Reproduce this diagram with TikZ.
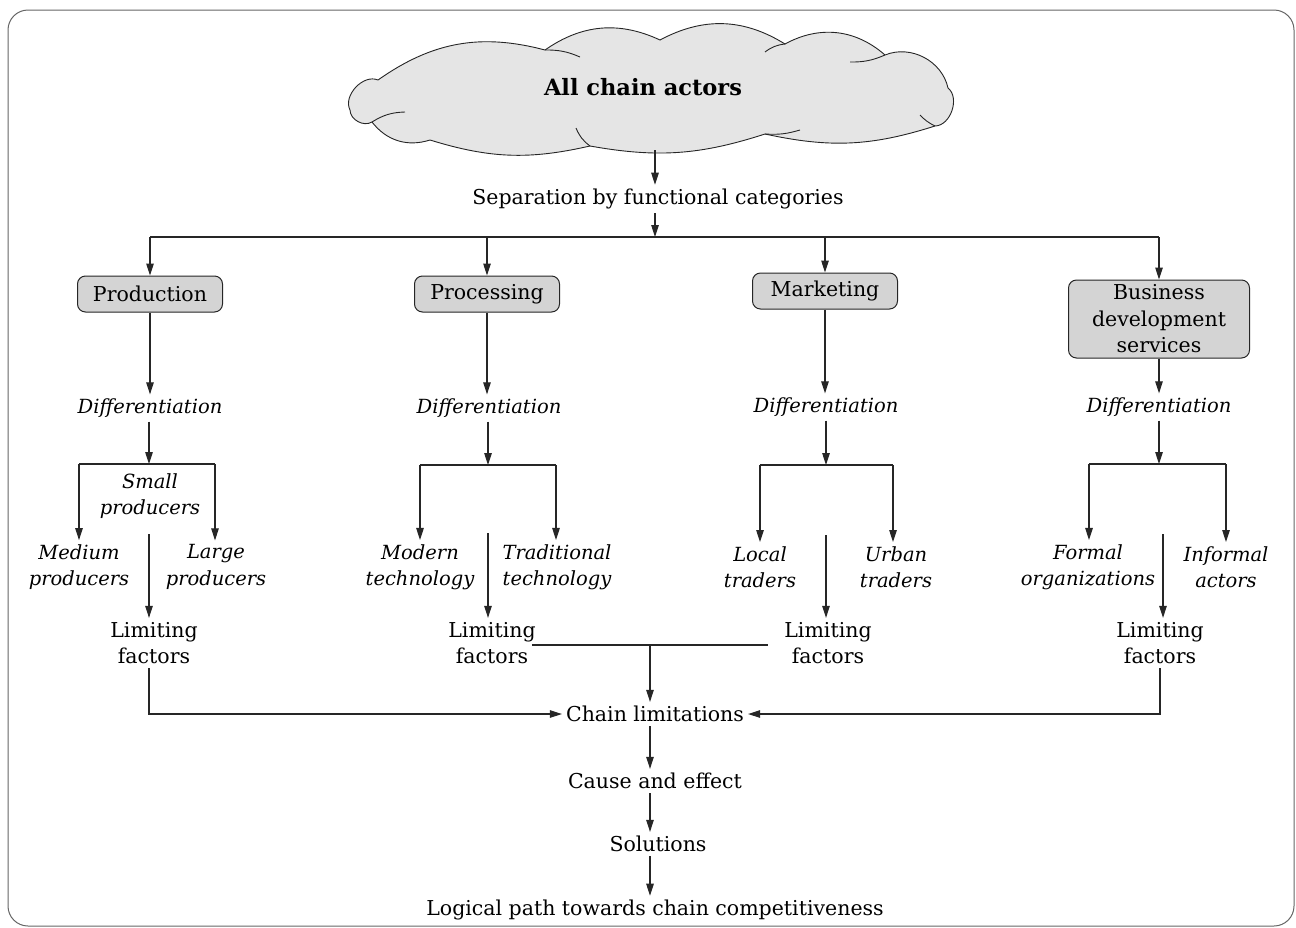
\documentclass[tikz,border=0pt]{standalone}
\usepackage{fontspec}
\setmainfont{DejaVu Serif}
\usetikzlibrary{arrows.meta}
\begin{document}
\begin{tikzpicture}[x=1pt,y=-1pt,
  every node/.style={font=\fontsize{20.5}{26.5}\selectfont, align=center, inner sep=4pt},
  txt/.style={},
  itx/.style={font=\fontsize{19.5}{26.5}\selectfont\itshape},
  catbox/.style={draw=black!85, line width=1pt, rounded corners=8pt, fill=black!17, minimum width=145pt, minimum height=36pt, inner sep=3pt},
  cloudline/.style={draw=black!85, line width=0.9pt},
  conn/.style={draw=black!85, line width=1.1pt},
  arr/.style={conn, -{Triangle[length=12pt,width=7.5pt]}}]
\useasboundingbox (0,0) rectangle (1296,927);
\draw[black!60, line width=1pt, rounded corners=20pt] (8,10) rectangle (1294,926);

% cloud outline
\path[cloudline, fill=black!10]
  (350,110) to[bend left=70] (378,80)
  to[bend left=25] (545,50)
  to[bend left=30] (660,40)
  to[bend left=30] (785,44)
  to[bend left=35] (885,55)
  to[bend left=50] (948,88)
  to[bend left=70] (935,126)
  to[bend left=15] (765,134)
  to[bend left=14] (590,146)
  to[bend left=15] (430,140)
  to[bend left=35] (372,122)
  to[bend left=60] cycle;
% overlapping puff strokes
\draw[cloudline] (545,50) to[bend left=12] (580,57);
\draw[cloudline] (785,44) to[bend right=15] (765,52);
\draw[cloudline] (885,55) to[bend left=12] (850,62);
\draw[cloudline] (372,122) to[bend left=15] (405,112);
\draw[cloudline] (590,146) to[bend left=15] (576,128);
\draw[cloudline] (765,134) to[bend right=10] (800,130);
\draw[cloudline] (935,126) to[bend left=10] (920,115);

\node[font=\fontsize{22.5}{26}\selectfont\bfseries] (cloud) at (643,87) {All chain actors};
\coordinate (cb) at (655,150);

\node[txt] (sep) at (658,199) {Separation by functional categories};
\coordinate (hb) at (655,237);

\node[catbox] (prod) at (150,294) {Production};
\node[catbox] (proc) at (487,294) {Processing};
\node[catbox] (mark) at (825,291) {Marketing};
\node[catbox, minimum width=181pt, minimum height=78pt] (bds) at (1159,319) {Business\\development\\services};

\node[itx] (d1) at (150,408) {Differentiation};
\node[itx] (d2) at (489,408) {Differentiation};
\node[itx] (d3) at (826,407) {Differentiation};
\node[itx] (d4) at (1159,407) {Differentiation};

\coordinate (b1) at (149,464); \coordinate (b1l) at (79,464); \coordinate (b1r) at (215,464);
\coordinate (b2) at (488,465); \coordinate (b2l) at (420,465); \coordinate (b2r) at (556,465);
\coordinate (b3) at (826,465); \coordinate (b3l) at (760,465); \coordinate (b3r) at (893,465);
\coordinate (b4) at (1159,464); \coordinate (b4l) at (1089,464); \coordinate (b4r) at (1226,464);

\node[itx] (small) at (150,496) {Small\\producers};
\node[itx] (med) at (79,567) {Medium\\producers};
\node[itx] (large) at (216,567) {Large\\producers};
\node[itx] (modern) at (420,567) {Modern\\technology};
\node[itx] (trad) at (557,567) {Traditional\\technology};
\node[itx] (local) at (760,567) {Local\\traders};
\node[itx] (urban) at (896,567) {Urban\\traders};
\node[itx] (formal) at (1088,567) {Formal\\organizations};
\node[itx] (informal) at (1226,567) {Informal\\actors};

\coordinate (c1) at (149,534); \coordinate (c2) at (488,533);
\coordinate (c3) at (826,535); \coordinate (c4) at (1163,534);

\node[txt] (lf1) at (154,643) {Limiting\\factors};
\node[txt] (lf2) at (492,643) {Limiting\\factors};
\node[txt] (lf3) at (828,643) {Limiting\\factors};
\node[txt] (lf4) at (1160,643) {Limiting\\factors};

\node[txt] (chain) at (655,714) {Chain limitations};
\node[txt] (cause) at (655,781) {Cause and effect};
\node[txt] (sol) at (658,844) {Solutions};
\node[txt] (logic) at (655,910) {Logical path towards chain competitiveness};
\coordinate (j) at (650,645);

% top
\draw[arr] (cb) -- (hb |- sep.north);
\draw[arr] (sep.south -| hb) -- (hb);
\draw[conn] (prod.north |- hb) -- (bds.north |- hb);
\foreach \n in {prod,proc,mark,bds} \draw[arr] (\n.north |- hb) -- (\n.north);

% category to differentiation
\draw[arr] (prod.south) -- (prod.south |- d1.north);
\draw[arr] (proc.south) -- (proc.south |- d2.north);
\draw[arr] (mark.south) -- (mark.south |- d3.north);
\draw[arr] (bds.south) -- (bds.south |- d4.north);

% brackets
\draw[arr] (b1 |- d1.south) -- (b1);
\draw[arr] (b2 |- d2.south) -- (b2);
\draw[arr] (b3 |- d3.south) -- (b3);
\draw[arr] (b4 |- d4.south) -- (b4);
\draw[conn] (b1l) -- (b1r);
\draw[arr] (b1l) -- (b1l |- med.north);
\draw[arr] (b1r) -- (b1r |- large.north);
\draw[conn] (b2l) -- (b2r);
\draw[arr] (b2l) -- (b2l |- modern.north);
\draw[arr] (b2r) -- (b2r |- trad.north);
\draw[conn] (b3l) -- (b3r);
\draw[arr] (b3l) -- (b3l |- local.north);
\draw[arr] (b3r) -- (b3r |- urban.north);
\draw[conn] (b4l) -- (b4r);
\draw[arr] (b4l) -- (b4l |- formal.north);
\draw[arr] (b4r) -- (b4r |- informal.north);

% to limiting factors
\draw[arr] (c1) -- (c1 |- lf1.north);
\draw[arr] (c2) -- (c2 |- lf2.north);
\draw[arr] (c3) -- (c3 |- lf3.north);
\draw[arr] (c4) -- (c4 |- lf4.north);

% to chain limitations
\draw[conn] ([xshift=-8pt]lf2.east |- j) -- ([xshift=-12pt]lf3.west |- j);
\draw[arr] (j) -- (j |- chain.north);
\draw[arr] (c1 |- lf1.south) |- (chain.west);
\draw[arr] (lf4.south) |- (chain.east);

% bottom chain
\draw[arr] (j |- chain.south) -- (j |- cause.north);
\draw[arr] (j |- cause.south) -- (j |- sol.north);
\draw[arr] (j |- sol.south) -- (j |- logic.north);
\end{tikzpicture}
\end{document}
